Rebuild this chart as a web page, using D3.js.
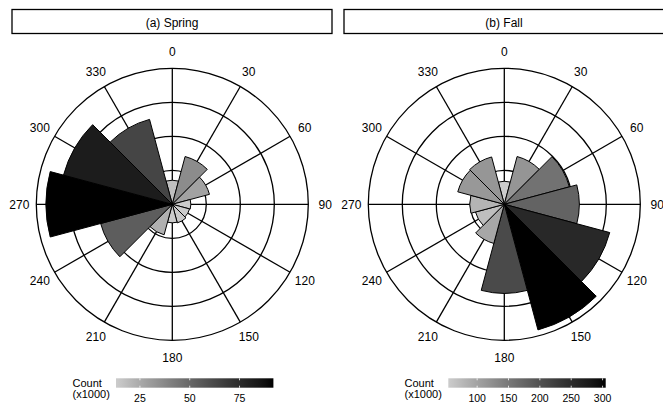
<!DOCTYPE html>
<html><head><meta charset="utf-8">
<script src="https://cdn.jsdelivr.net/npm/d3@7"></script>
<style>body{margin:0;background:#fff}svg{display:block;font-family:"Liberation Sans",Arial,sans-serif}</style>
</head><body>
<svg id="chart" width="663" height="404"></svg>
<script>
// ---- data ----
const directions = [0, 30, 60, 90, 120, 150, 180, 210, 240, 270, 300, 330];
const angleLabels = ["0", "30", "60", "90", "120", "150", "180", "210", "240", "270", "300", "330"];
const panelTitles = ["(a) Spring", "(b) Fall"];
const springCounts = [17.5, 36, 28, 13.5, 13, 14, 13.5, 23, 54, 92, 82, 64];
const fallCounts = [54, 116, 158, 176, 256, 305, 209, 95, 70, 81, 113, 115];
const springTicks = [25, 50, 75];
const fallTicks = [100, 150, 200, 250, 300];
const springRadialMax = 99;
const fallRadialMax = 319;

// ---- layout ----
const svg = d3.select("#chart");
const R = 136;
const panels = [
  {title: panelTitles[0], counts: springCounts, ticks: springTicks, rmax: springRadialMax, x0: 12, cx: 172.3, legX: 72.5, barX: 116},
  {title: panelTitles[1], counts: fallCounts, ticks: fallTicks, rmax: fallRadialMax, x0: 344, cx: 504.3, legX: 404.5, barX: 448.3}
];
const cy = 204.3;
const barW = 157.4, barY = 378.3, barH = 9.4;

panels.forEach(p => {
  const g = svg.append("g");
  // strip
  g.append("rect").attr("x", p.x0).attr("y", 9.5).attr("width", 320).attr("height", 24)
    .attr("fill", "#fff").attr("stroke", "#000").attr("stroke-width", 1.3);
  g.append("text").attr("x", p.x0 + 160).attr("y", 26.5).attr("text-anchor", "middle")
    .attr("font-size", 12).text(p.title);

  const ext = d3.extent(p.counts);
  const color = d3.scaleLinear().domain(ext).range(["#cccccc", "#000000"]).interpolate(d3.interpolateLab);
  const r = d3.scaleLinear().domain([0, p.rmax]).range([0, R]);
  const toRad = d => d * Math.PI / 180;

  const pg = g.append("g").attr("transform", `translate(${p.cx},${cy})`);
  // grid rings
  [0.25, 0.5, 0.75, 1].forEach(f => {
    pg.append("circle").attr("r", R * f).attr("fill", "none").attr("stroke", "#000").attr("stroke-width", 1.3);
  });
  // spokes
  pg.selectAll("line.spoke").data(directions).join("line").attr("class", "spoke")
    .attr("x1", 0).attr("y1", 0)
    .attr("x2", d => R * Math.sin(toRad(d))).attr("y2", d => -R * Math.cos(toRad(d)))
    .attr("stroke", "#000").attr("stroke-width", 1.3);
  // bars
  const arc = d3.arc().innerRadius(0)
    .outerRadius(d => r(d.v))
    .startAngle(d => toRad(d.dir - 15)).endAngle(d => toRad(d.dir + 15));
  const bars = directions.map((dir, i) => ({dir, v: p.counts[i]}));
  pg.selectAll("path.bar").data(bars).join("path").attr("class", "bar")
    .attr("d", arc).attr("fill", d => color(d.v)).attr("stroke", "#000").attr("stroke-width", 1);
  // angle labels
  pg.selectAll("text.ang").data(directions).join("text").attr("class", "ang")
    .attr("x", d => 153 * Math.sin(toRad(d))).attr("y", d => -153 * Math.cos(toRad(d)))
    .attr("dy", "0.36em").attr("text-anchor", "middle").attr("font-size", 12)
    .text((d, i) => angleLabels[i]);

  // legend
  const lg = g.append("g");
  lg.append("text").attr("x", p.legX).attr("y", 387).attr("font-size", 11).text("Count");
  lg.append("text").attr("x", p.legX).attr("y", 398).attr("font-size", 11).text("(x1000)");
  const gid = "grad" + p.x0;
  const grad = svg.append("defs").append("linearGradient").attr("id", gid);
  d3.range(0, 1.0001, 0.05).forEach(t => {
    grad.append("stop").attr("offset", t).attr("stop-color", color(ext[0] + t * (ext[1] - ext[0])));
  });
  lg.append("rect").attr("x", p.barX).attr("y", barY).attr("width", barW).attr("height", barH)
    .attr("fill", `url(#${gid})`);
  const lx = d3.scaleLinear().domain(ext).range([p.barX, p.barX + barW]);
  p.ticks.forEach(t => {
    const x = lx(t);
    lg.append("line").attr("x1", x).attr("x2", x).attr("y1", barY).attr("y2", barY + 2)
      .attr("stroke", "#fff").attr("stroke-width", 0.8);
    lg.append("line").attr("x1", x).attr("x2", x).attr("y1", barY + barH - 2).attr("y2", barY + barH)
      .attr("stroke", "#fff").attr("stroke-width", 0.8);
    lg.append("text").attr("x", x).attr("y", 402).attr("text-anchor", "middle")
      .attr("font-size", 10.5).text(t);
  });
});
</script>
</body></html>
